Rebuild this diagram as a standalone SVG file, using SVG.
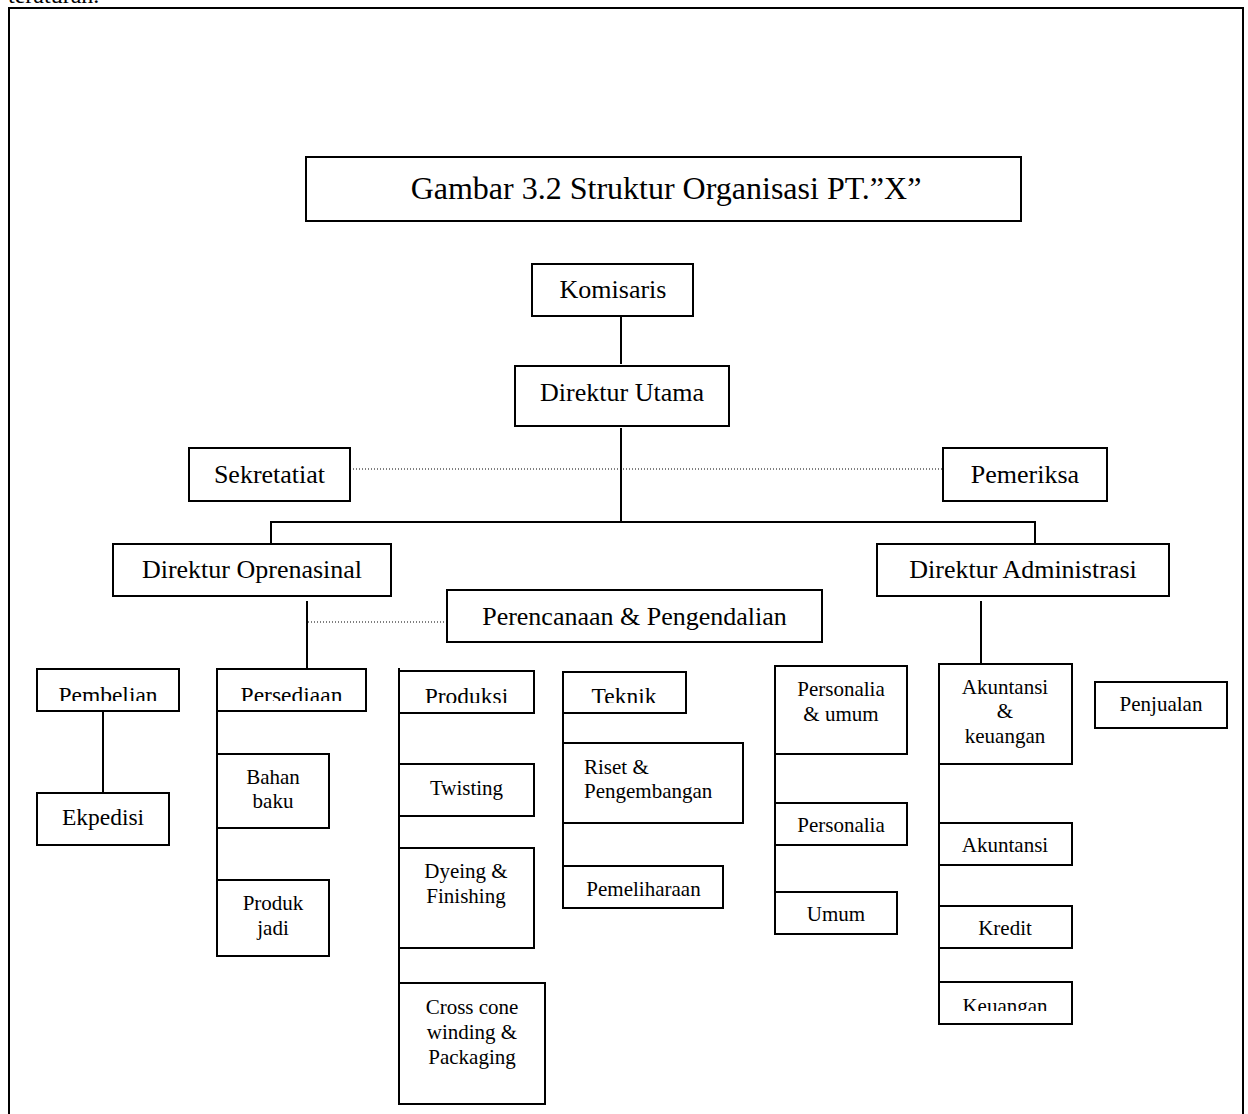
<svg xmlns="http://www.w3.org/2000/svg" width="1248" height="1114" viewBox="0 0 1248 1114">
<style>
.bg{fill:#fff}
.box{fill:#fff;stroke:#000;stroke-width:2}
.ln{stroke:#000;stroke-width:2;fill:none}
.dot{stroke:#000;stroke-width:1.2;stroke-dasharray:1 2;fill:none}
text{font-family:"Liberation Serif","Times New Roman",serif;fill:#000;text-anchor:middle}
.t0{font-size:32px}
.t1{font-size:26px}
.t2{font-size:23.5px}
.t3{font-size:21px}
</style>
<defs>
<clipPath id="cPembelian"><rect x="37" y="669" width="142" height="32"/></clipPath>
<clipPath id="cPersediaan"><rect x="217" y="669" width="149" height="32"/></clipPath>
<clipPath id="cProduksi"><rect x="399" y="671" width="135" height="32"/></clipPath>
<clipPath id="cTeknik"><rect x="563" y="672" width="123" height="31"/></clipPath>
<clipPath id="cKeuangan"><rect x="939" y="982" width="133" height="29"/></clipPath>
</defs>
<rect class="bg" x="0" y="0" width="1248" height="1114"/>
<text x="8" y="3" style="font-size:24px;text-anchor:start">teraturan.</text>
<path class="ln" d="M9,1114 V8 H1243 V1114"/>

<g id="connectors">
<line class="ln" x1="621" y1="317" x2="621" y2="364"/>
<line class="ln" x1="621" y1="428" x2="621" y2="523"/>
<line class="ln" x1="271" y1="522" x2="1035" y2="522"/>
<line class="ln" x1="271" y1="521" x2="271" y2="544"/>
<line class="ln" x1="1035" y1="521" x2="1035" y2="544"/>
<line class="dot" x1="350" y1="469" x2="943" y2="469"/>
<line class="ln" x1="307" y1="601" x2="307" y2="669"/>
<line class="dot" x1="308" y1="622" x2="447" y2="622"/>
<line class="ln" x1="103" y1="711" x2="103" y2="793"/>
<line class="ln" x1="217" y1="669" x2="217" y2="956"/>
<line class="ln" x1="399" y1="668" x2="399" y2="1104"/>
<line class="ln" x1="563" y1="672" x2="563" y2="908"/>
<line class="ln" x1="775" y1="666" x2="775" y2="934"/>
<line class="ln" x1="981" y1="601" x2="981" y2="664"/>
<line class="ln" x1="939" y1="664" x2="939" y2="1024"/>
</g>

<g id="title"><rect class="box" x="306" y="157" width="715" height="64"/><text class="t0" x="666" y="199">Gambar 3.2 Struktur Organisasi PT.”X”</text></g>
<g id="komisaris"><rect class="box" x="532" y="264" width="161" height="52"/><text class="t1" x="613" y="298">Komisaris</text></g>
<g id="direktur-utama"><rect class="box" x="515" y="366" width="214" height="60"/><text class="t1" x="622" y="401">Direktur Utama</text></g>
<g id="sekretatiat"><rect class="box" x="189" y="448" width="161" height="53"/><text class="t1" x="269.5" y="483">Sekretatiat</text></g>
<g id="pemeriksa"><rect class="box" x="943" y="448" width="164" height="53"/><text class="t1" x="1025" y="483">Pemeriksa</text></g>
<g id="direktur-oprenasinal"><rect class="box" x="113" y="544" width="278" height="52"/><text class="t1" x="252" y="578">Direktur Oprenasinal</text></g>
<g id="direktur-administrasi"><rect class="box" x="877" y="544" width="292" height="52"/><text class="t1" x="1023" y="578">Direktur Administrasi</text></g>
<g id="perencanaan"><rect class="box" x="447" y="590" width="375" height="52"/><text class="t1" x="634.5" y="625">Perencanaan &amp; Pengendalian</text></g>

<g id="pembelian"><rect class="box" x="37" y="669" width="142" height="42"/><text class="t2" x="108" y="703" clip-path="url(#cPembelian)">Pembelian</text></g>
<g id="ekpedisi"><rect class="box" x="37" y="793" width="132" height="52"/><text class="t2" x="103" y="825">Ekpedisi</text></g>
<g id="persediaan"><rect class="box" x="217" y="669" width="149" height="42"/><text class="t2" x="291.5" y="703" clip-path="url(#cPersediaan)">Persediaan</text></g>
<g id="bahan-baku"><rect class="box" x="217" y="754" width="112" height="74"/><text class="t3" x="273" y="784">Bahan</text><text class="t3" x="273" y="808">baku</text></g>
<g id="produk-jadi"><rect class="box" x="217" y="880" width="112" height="76"/><text class="t3" x="273" y="910">Produk</text><text class="t3" x="273" y="935">jadi</text></g>

<g id="produksi"><rect class="box" x="399" y="671" width="135" height="42"/><text class="t2" x="466.5" y="704" clip-path="url(#cProduksi)">Produksi</text></g>
<g id="twisting"><rect class="box" x="399" y="764" width="135" height="52"/><text class="t3" x="466.5" y="795">Twisting</text></g>
<g id="dyeing"><rect class="box" x="399" y="848" width="135" height="100"/><text class="t3" x="466" y="878">Dyeing &amp;</text><text class="t3" x="466" y="903">Finishing</text></g>
<g id="cross-cone"><rect class="box" x="399" y="983" width="146" height="121"/><text class="t3" x="472" y="1014">Cross cone</text><text class="t3" x="472" y="1039">winding &amp;</text><text class="t3" x="472" y="1064">Packaging</text></g>

<g id="teknik"><rect class="box" x="563" y="672" width="123" height="41"/><text class="t2" x="624" y="704" clip-path="url(#cTeknik)">Teknik</text></g>
<g id="riset"><rect class="box" x="563" y="743" width="180" height="80"/><text class="t3" x="584" y="774" style="text-anchor:start">Riset &amp;</text><text class="t3" x="584" y="798" style="text-anchor:start">Pengembangan</text></g>
<g id="pemeliharaan"><rect class="box" x="563" y="866" width="160" height="42"/><text class="t3" x="643.5" y="896">Pemeliharaan</text></g>

<g id="personalia-umum"><rect class="box" x="775" y="666" width="132" height="88"/><text class="t3" x="841" y="696">Personalia</text><text class="t3" x="841" y="721">&amp; umum</text></g>
<g id="personalia"><rect class="box" x="775" y="803" width="132" height="42"/><text class="t3" x="841" y="832">Personalia</text></g>
<g id="umum"><rect class="box" x="775" y="892" width="122" height="42"/><text class="t3" x="836" y="921">Umum</text></g>

<g id="akuntansi-keuangan"><rect class="box" x="939" y="664" width="133" height="100"/><text class="t3" x="1005" y="694">Akuntansi</text><text class="t3" x="1005" y="718">&amp;</text><text class="t3" x="1005" y="743">keuangan</text></g>
<g id="akuntansi"><rect class="box" x="939" y="823" width="133" height="42"/><text class="t3" x="1005" y="852">Akuntansi</text></g>
<g id="kredit"><rect class="box" x="939" y="906" width="133" height="42"/><text class="t3" x="1005" y="935">Kredit</text></g>
<g id="keuangan"><rect class="box" x="939" y="982" width="133" height="42"/><text class="t3" x="1005" y="1013" clip-path="url(#cKeuangan)">Keuangan</text></g>
<g id="penjualan"><rect class="box" x="1095" y="682" width="132" height="46"/><text class="t3" x="1161" y="711">Penjualan</text></g>
</svg>
